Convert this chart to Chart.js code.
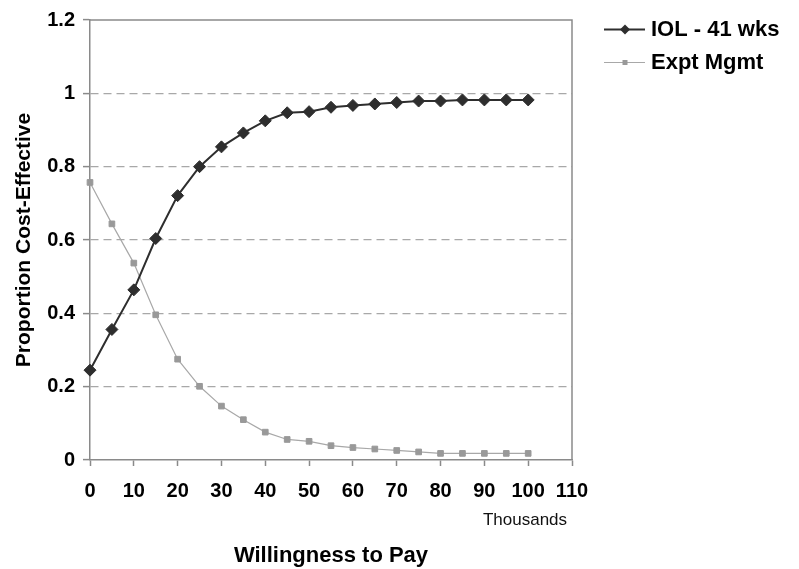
<!DOCTYPE html>
<html>
<head>
<meta charset="utf-8">
<script src="https://cdn.jsdelivr.net/npm/chart.js@4/dist/chart.umd.min.js"></script>
<style>
html,body{margin:0;padding:0;background:#fff;}
#wrap{position:relative;width:799px;height:569px;}
</style>
</head>
<body>
<div id="wrap"><canvas id="c" width="799" height="569"></canvas></div>
<script>
// Data
const wtp = [0,5,10,15,20,25,30,35,40,45,50,55,60,65,70,75,80,85,90,95,100];
const iolValues = [0.245,0.356,0.464,0.604,0.721,0.800,0.854,0.892,0.925,0.947,0.950,0.962,0.967,0.971,0.975,0.979,0.979,0.982,0.982,0.982,0.982];
const exptValues = [0.757,0.644,0.537,0.396,0.275,0.201,0.147,0.110,0.076,0.056,0.051,0.039,0.034,0.030,0.026,0.022,0.018,0.018,0.018,0.018,0.018];
const seriesNames = ['IOL - 41 wks','Expt Mgmt'];
const yTickLabels = ['0','0.2','0.4','0.6','0.8','1','1.2'];
const xTickLabels = ['0','10','20','30','40','50','60','70','80','90','100','110'];
const xUnitLabel = 'Thousands';
const xTitle = 'Willingness to Pay';
const yTitle = 'Proportion Cost-Effective';

const FF = '"Liberation Sans", Arial, Helvetica, sans-serif';
const AXIS = '#8a8a8a';

const frame = {
  id:'frame',
  beforeDatasetsDraw(chart){
    const {ctx, chartArea:a} = chart;
    ctx.save();
    ctx.strokeStyle = AXIS; ctx.lineWidth = 1.5;
    ctx.beginPath();
    ctx.moveTo(a.left, a.top); ctx.lineTo(a.right, a.top); ctx.lineTo(a.right, a.bottom);
    ctx.stroke();
    ctx.restore();
  },
  afterDraw(chart){
    const {ctx} = chart;
    ctx.save();
    // "Thousands" unit label
    ctx.fillStyle = '#111';
    ctx.font = '17px ' + FF;
    ctx.textAlign = 'center'; ctx.textBaseline = 'middle';
    ctx.fillText(xUnitLabel, 525, 520);
    // legend
    const items = chart.data.datasets;
    const rows = [29.5, 62.5];
    items.forEach((ds, i) => {
      const y = rows[i];
      ctx.strokeStyle = ds.borderColor; ctx.lineWidth = ds.borderWidth;
      ctx.beginPath(); ctx.moveTo(604, y); ctx.lineTo(645, y); ctx.stroke();
      ctx.fillStyle = ds.pointBackgroundColor;
      ctx.beginPath();
      if (ds.pointStyle === 'rectRot') {
        const r = 5;
        ctx.moveTo(625 - r, y); ctx.lineTo(625, y - r); ctx.lineTo(625 + r, y); ctx.lineTo(625, y + r); ctx.closePath();
      } else {
        ctx.rect(625 - 2.5, y - 2.5, 5, 5);
      }
      ctx.fill();
      ctx.fillStyle = '#000';
      ctx.font = 'bold 22px ' + FF;
      ctx.textAlign = 'left'; ctx.textBaseline = 'middle';
      ctx.fillText(ds.label, 651, y);
    });
    ctx.restore();
  }
};

new Chart(document.getElementById('c'), {
  type: 'line',
  data: {
    datasets: [
      {
        label: seriesNames[0],
        data: wtp.map((x, i) => ({x, y: iolValues[i]})),
        borderColor: '#2e2e2e', borderWidth: 2,
        pointStyle: 'rectRot', pointRadius: 6, pointHoverRadius: 6,
        pointBackgroundColor: '#2e2e2e', pointBorderColor: '#2e2e2e', pointBorderWidth: 1,
        tension: 0, clip: false
      },
      {
        label: seriesNames[1],
        data: wtp.map((x, i) => ({x, y: exptValues[i]})),
        borderColor: '#a8a8a8', borderWidth: 1.2,
        pointStyle: 'rect', pointRadius: 4, pointHoverRadius: 4,
        pointBackgroundColor: '#999999', pointBorderColor: '#999999', pointBorderWidth: 1,
        tension: 0, clip: false
      }
    ]
  },
  options: {
    responsive: false,
    animation: false,
    events: [],
    layout: { padding: { left: 0, top: 18, right: 227, bottom: 0 } },
    plugins: { legend: { display: false }, tooltip: { enabled: false } },
    scales: {
      x: {
        type: 'linear', min: 0, max: 110,
        afterFit(s){ s.height = 109; },
        ticks: {
          stepSize: 10, color: '#000', padding: 13,
          font: { family: FF, size: 20, weight: 'bold' },
          maxRotation: 0, autoSkip: false,
          callback: (v, i) => xTickLabels[i]
        },
        grid: { drawOnChartArea: false, drawTicks: true, tickLength: 6, tickColor: AXIS, tickWidth: 1.5 },
        border: { color: AXIS, width: 1.5 },
        title: { display: true, text: xTitle, color: '#000', padding: { top: 0, bottom: 0 },
          font: { family: FF, size: 22, weight: 'bold' } }
      },
      y: {
        type: 'linear', min: 0, max: 1.2,
        afterFit(s){ s.width = 90; },
        ticks: {
          stepSize: 0.2, color: '#000', padding: 8,
          font: { family: FF, size: 20, weight: 'bold' },
          callback: (v, i) => yTickLabels[i]
        },
        grid: {
          color: (c) => (c.index === 0 || c.index === 6) ? 'rgba(0,0,0,0)' : '#a8a8a8',
          lineWidth: 1.2, tickLength: 7, tickColor: AXIS, tickWidth: 1.5
        },
        border: { color: AXIS, width: 1.5, dash: [8, 5] },
        title: { display: true, text: yTitle, color: '#000', padding: { top: 12, bottom: 0 },
          font: { family: FF, size: 21, weight: 'bold' } }
      }
    }
  },
  plugins: [frame]
});
</script>
</body>
</html>
